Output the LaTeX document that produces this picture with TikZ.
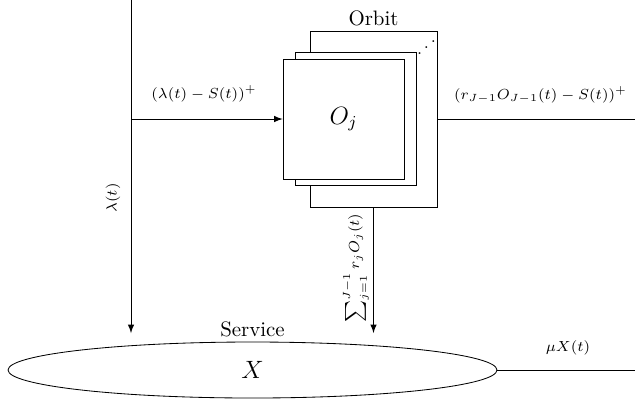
\documentclass[tikz,border=0pt]{standalone}
\usetikzlibrary{arrows,shapes.geometric}
\begin{document}
\begin{tikzpicture}[x=0.479pt,y=-0.479pt,
  box/.style={draw,fill=white,rectangle,inner sep=0pt},
  flow/.style={-latex},
  lbl/.style={font=\scriptsize,inner sep=1pt}]
\useasboundingbox (0,0) rectangle (635,403);

% stacked orbit boxes, back to front
\node[box,minimum width=127*0.479pt,minimum height=176*0.479pt] (orbit3) at (373.5,119) {};
\node[box,minimum width=121*0.479pt,minimum height=133*0.479pt] (orbit2) at (355.5,118.5) {};
\node[box,minimum width=121*0.479pt,minimum height=120*0.479pt] (orbit1) at (343.5,119) {\large $O_j$};
\node[anchor=south,inner sep=2pt] (orbitlbl) at (orbit3.north) {Orbit};
\node[inner sep=0pt,font=\footnotesize] (dots) at (426.5,41.5) {\reflectbox{$\ddots$}};

% service pool
\node[draw,ellipse,minimum width=489*0.479pt,minimum height=56*0.479pt,inner sep=0pt] (serv) at (252.5,370) {\large $X$};
\node[anchor=south,inner sep=2pt] (servlbl) at (serv.north) {Service};

% arrivals
\coordinate (top) at (131,0);
\coordinate (lamend) at (131,333);
\coordinate (split) at (131,119);
\draw[flow] (top) -- (lamend);
\draw[flow] (split) -- (split -| orbit1.west);
\node[lbl,rotate=90] (laml) at (113,198) {$\lambda(t)$};
\node[lbl] (overflow) at (204,94) {$(\lambda(t)-S(t))^+$};

% leaving the orbit
\coordinate (outR) at (635,119);
\draw (orbit3.east |- split) -- (outR);
\node[lbl] (leave) at (540.5,95) {$(r_{J-1}O_{J-1}(t)-S(t))^+$};

% retrials into service
\coordinate (retend) at (373.5,333);
\draw[flow] (orbit3.south) -- (retend);
\node[lbl,rotate=90] (retl) at (356,268) {$\sum_{j=1}^{J-1} r_jO_j(t)$};

% departures
\coordinate (outS) at (635,370);
\draw (serv.east) -- (outS);
\node[lbl] (dep) at (568,348) {$\mu X(t)$};
\end{tikzpicture}
\end{document}
